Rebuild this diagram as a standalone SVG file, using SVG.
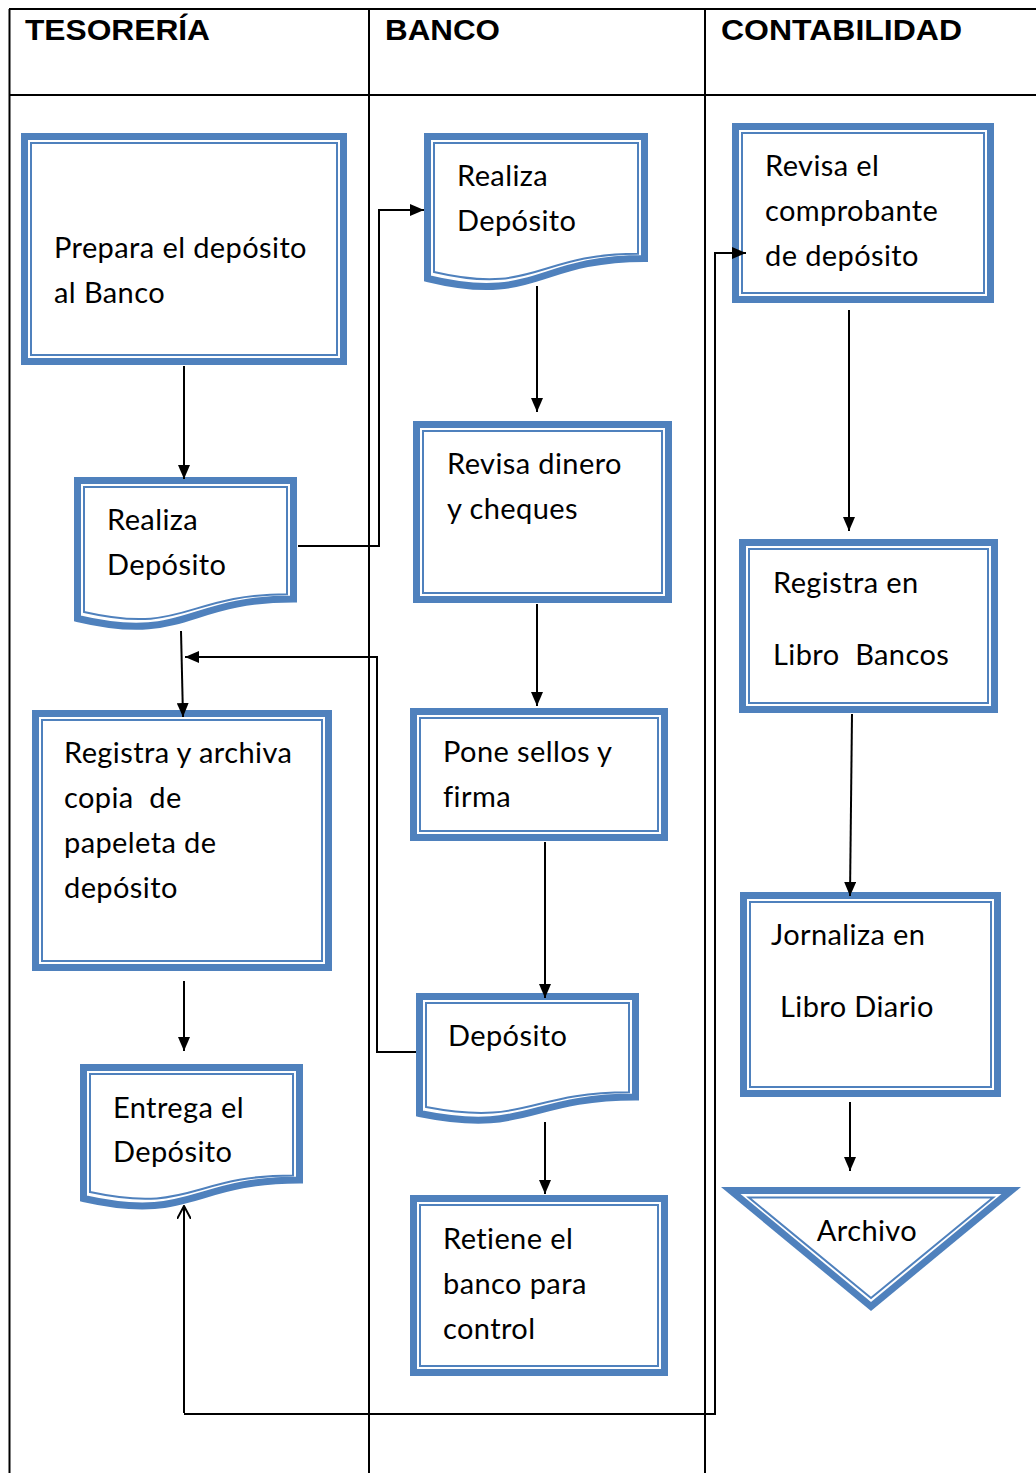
<svg xmlns="http://www.w3.org/2000/svg" width="1036" height="1473" viewBox="0 0 1036 1473">
  <style>
    .grid { stroke: #000; stroke-width: 2; fill: none; }
    .head { font-family: "Liberation Sans", Arial, sans-serif; font-weight: bold; font-size: 29px; fill: #000; }
    .lbl { font-family: Lato, "Noto Sans", sans-serif; font-size: 29px; letter-spacing: 0.4px; fill: #000; }
    .outer { fill: #fff; stroke: #4F81BD; stroke-width: 7; }
    .inner { fill: none; stroke: #4F81BD; stroke-width: 2; }
    .conn { fill: none; stroke: #000; stroke-width: 2; }
  </style>
  <defs>
    <marker id="arrow" viewBox="0 0 14 12" refX="14" refY="6" markerWidth="14" markerHeight="12" markerUnits="userSpaceOnUse" orient="auto">
      <path d="M0,0 L14,6 L0,12 Z" fill="#000"/>
    </marker>
    <marker id="open" viewBox="0 0 14 14" refX="13" refY="7" markerWidth="14" markerHeight="14" markerUnits="userSpaceOnUse" orient="auto">
      <path d="M0,0 L13,7 L0,14" fill="none" stroke="#000" stroke-width="2"/>
    </marker>
  </defs>

  <rect width="1036" height="1473" fill="#fff"/>

  <!-- swimlane table -->
  <g id="lanes">
    <path class="grid" d="M9,9 H1036 M9,95 H1036 M9.5,9 V1473 M369,9 V1473 M705,9 V1473"/>
    <text class="head" x="25" y="40" textLength="185" lengthAdjust="spacingAndGlyphs">TESORERÍA</text>
    <text class="head" x="385" y="40" textLength="115" lengthAdjust="spacingAndGlyphs">BANCO</text>
    <text class="head" x="721" y="40" textLength="241" lengthAdjust="spacingAndGlyphs">CONTABILIDAD</text>
  </g>

  <!-- TESORERÍA -->
  <g id="prepara">
    <rect class="outer" x="24.5" y="136.5" width="319" height="225"/>
    <rect class="inner" x="31" y="143" width="306" height="212"/>
    <text class="lbl" x="54" y="258">Prepara el depósito</text>
    <text class="lbl" x="54" y="303">al Banco</text>
  </g>
  <g id="realiza-tes">
    <path class="outer" d="M77.5,480.5 H293.5 V599 C185.5,599 185.5,644.1 77.5,618.5 Z"/>
    <path class="inner" d="M84,487 H287 V594.3 C185.5,594.3 185.5,635.2 84,612 Z"/>
    <text class="lbl" x="107" y="530">Realiza</text>
    <text class="lbl" x="107" y="575">Depósito</text>
  </g>
  <g id="registra-archiva">
    <rect class="outer" x="35.5" y="713.5" width="293" height="254"/>
    <rect class="inner" x="42" y="720" width="280" height="241"/>
    <text class="lbl" x="64" y="763">Registra y archiva</text>
    <text class="lbl" x="64" y="808" xml:space="preserve">copia  de</text>
    <text class="lbl" x="64" y="853">papeleta de</text>
    <text class="lbl" x="64" y="898">depósito</text>
  </g>
  <g id="entrega">
    <path class="outer" d="M83.5,1067.5 H299.5 V1180 C191.5,1180 191.5,1222.9 83.5,1198.5 Z"/>
    <path class="inner" d="M90,1074 H293 V1175.4 C191.5,1175.4 191.5,1214 90,1192.1 Z"/>
    <text class="lbl" x="113" y="1118">Entrega el</text>
    <text class="lbl" x="113" y="1162">Depósito</text>
  </g>

  <!-- BANCO -->
  <g id="realiza-banco">
    <path class="outer" d="M427.5,136.5 H644.5 V258.4 C536,258.4 536,304.9 427.5,278.5 Z"/>
    <path class="inner" d="M434,143 H638 V253.8 C536,253.8 536,295.9 434,272 Z"/>
    <text class="lbl" x="457" y="186">Realiza</text>
    <text class="lbl" x="457" y="231">Depósito</text>
  </g>
  <g id="revisa-dinero">
    <rect class="outer" x="416.5" y="424.5" width="252" height="175"/>
    <rect class="inner" x="423" y="431" width="239" height="162"/>
    <text class="lbl" x="447" y="474">Revisa dinero</text>
    <text class="lbl" x="447" y="519">y cheques</text>
  </g>
  <g id="pone-sellos">
    <rect class="outer" x="413.5" y="711.5" width="251" height="126"/>
    <rect class="inner" x="420" y="718" width="238" height="113"/>
    <text class="lbl" x="443" y="762">Pone sellos y</text>
    <text class="lbl" x="443" y="807">firma</text>
  </g>
  <g id="deposito">
    <path class="outer" d="M419.5,996.5 H635.5 V1097 C527.5,1097 527.5,1135.3 419.5,1113.5 Z"/>
    <path class="inner" d="M426,1003 H629 V1092.3 C527.5,1092.3 527.5,1126.4 426,1107 Z"/>
    <text class="lbl" x="448" y="1046">Depósito</text>
  </g>
  <g id="retiene">
    <rect class="outer" x="413.5" y="1198.5" width="251" height="174"/>
    <rect class="inner" x="420" y="1205" width="238" height="161"/>
    <text class="lbl" x="443" y="1249">Retiene el</text>
    <text class="lbl" x="443" y="1294">banco para</text>
    <text class="lbl" x="443" y="1339">control</text>
  </g>

  <!-- CONTABILIDAD -->
  <g id="revisa-comprobante">
    <rect class="outer" x="735.5" y="126.5" width="255" height="173"/>
    <rect class="inner" x="742" y="133" width="242" height="160"/>
    <text class="lbl" x="765" y="176">Revisa el</text>
    <text class="lbl" x="765" y="221">comprobante</text>
    <text class="lbl" x="765" y="266">de depósito</text>
  </g>
  <g id="libro-bancos">
    <rect class="outer" x="742.5" y="542.5" width="252" height="167"/>
    <rect class="inner" x="749" y="549" width="239" height="154"/>
    <text class="lbl" x="773" y="593">Registra en</text>
    <text class="lbl" x="773" y="665" xml:space="preserve">Libro  Bancos</text>
  </g>
  <g id="libro-diario">
    <rect class="outer" x="743.5" y="895.5" width="254" height="198"/>
    <rect class="inner" x="750" y="902" width="241" height="185"/>
    <text class="lbl" x="771" y="945">Jornaliza en</text>
    <text class="lbl" x="780" y="1017">Libro Diario</text>
  </g>
  <g id="archivo">
    <polygon points="721,1187 1021,1187 871,1311" fill="#4F81BD"/>
    <polygon points="740.5,1194 1001.5,1194 871,1302" fill="#fff"/>
    <polygon class="inner" points="748.8,1197.5 993.2,1197.5 871,1298"/>
    <text class="lbl" x="867" y="1241" text-anchor="middle">Archivo</text>
  </g>

  <!-- connectors, drawn over the shapes -->
  <g id="connectors">
    <path class="conn" d="M184,366 V479" marker-end="url(#arrow)"/>
    <path class="conn" d="M298,546 H379 V210 H424" marker-end="url(#arrow)"/>
    <path class="conn" d="M181,631 L183,717" marker-end="url(#arrow)"/>
    <path class="conn" d="M416,1052 H377 V657 H185" marker-end="url(#arrow)"/>
    <path class="conn" d="M184,981 V1051" marker-end="url(#arrow)"/>
    <path class="conn" d="M184,1413 V1206" marker-end="url(#open)"/>
    <path class="conn" d="M184,1414 H715 V253 H746" marker-end="url(#arrow)"/>
    <path class="conn" d="M537,286 V412" marker-end="url(#arrow)"/>
    <path class="conn" d="M537,604 V706" marker-end="url(#arrow)"/>
    <path class="conn" d="M545,842 V998" marker-end="url(#arrow)"/>
    <path class="conn" d="M545,1122 V1194" marker-end="url(#arrow)"/>
    <path class="conn" d="M849,310 V531" marker-end="url(#arrow)"/>
    <path class="conn" d="M852,714 L850,896" marker-end="url(#arrow)"/>
    <path class="conn" d="M850,1102 V1171" marker-end="url(#arrow)"/>
  </g>
</svg>
